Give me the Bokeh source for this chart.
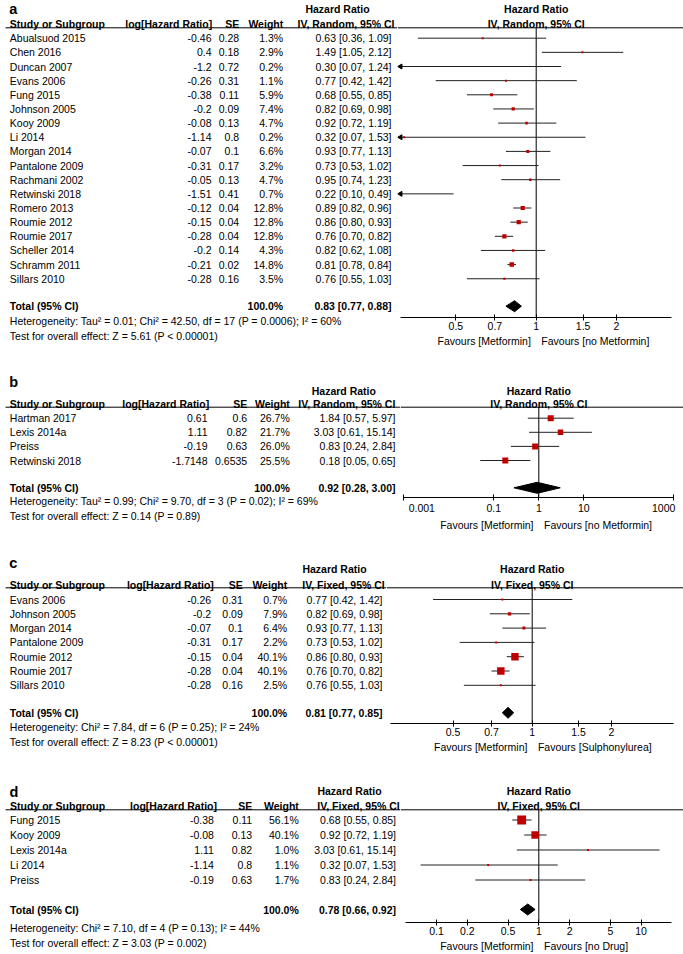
import math
from bokeh.plotting import figure
from bokeh.models import (Range1d, LogScale, LogAxis, FixedTicker,
                          CustomJSTickFormatter, ColumnDataSource)
from bokeh.layouts import column, row
from bokeh.core.properties import value
from bokeh.embed import file_html
from bokeh.resources import INLINE

# ---------------- data: panel a ----------------
a_studies = ["Abualsuod 2015", "Chen 2016", "Duncan 2007", "Evans 2006", "Fung 2015",
             "Johnson 2005", "Kooy 2009", "Li 2014", "Morgan 2014", "Pantalone 2009",
             "Rachmani 2002", "Retwinski 2018", "Romero 2013", "Roumie 2012",
             "Roumie 2017", "Scheller 2014", "Schramm 2011", "Sillars 2010"]
a_loghr = [-0.46, 0.4, -1.2, -0.26, -0.38, -0.2, -0.08, -1.14, -0.07, -0.31,
           -0.05, -1.51, -0.12, -0.15, -0.28, -0.2, -0.21, -0.28]
a_se = [0.28, 0.18, 0.72, 0.31, 0.11, 0.09, 0.13, 0.8, 0.1, 0.17,
        0.13, 0.41, 0.04, 0.04, 0.04, 0.14, 0.02, 0.16]
a_weight = [1.3, 2.9, 0.2, 1.1, 5.9, 7.4, 4.7, 0.2, 6.6, 3.2,
            4.7, 0.7, 12.8, 12.8, 12.8, 4.3, 14.8, 3.5]
a_hr = [0.63, 1.49, 0.30, 0.77, 0.68, 0.82, 0.92, 0.32, 0.93, 0.73,
        0.95, 0.22, 0.89, 0.86, 0.76, 0.82, 0.81, 0.76]
a_lo = [0.36, 1.05, 0.07, 0.42, 0.55, 0.69, 0.72, 0.07, 0.77, 0.53,
        0.74, 0.10, 0.82, 0.80, 0.70, 0.62, 0.78, 0.55]
a_hi = [1.09, 2.12, 1.24, 1.42, 0.85, 0.98, 1.19, 1.53, 1.13, 1.02,
        1.23, 0.49, 0.96, 0.93, 0.82, 1.08, 0.84, 1.03]
a_total = [0.83, 0.77, 0.88]
a_total_weight = 100.0
a_method = "IV, Random, 95% CI"
a_het = "Heterogeneity: Tau\u00b2 = 0.01; Chi\u00b2 = 42.50, df = 17 (P = 0.0006); I\u00b2 = 60%"
a_test = "Test for overall effect: Z = 5.61 (P < 0.00001)"
a_ticks = [0.5, 0.7, 1, 1.5, 2]
a_favours = ["Favours [Metformin]", "Favours [no Metformin]"]

# ---------------- data: panel b ----------------
b_studies = ["Hartman 2017", "Lexis 2014a", "Preiss", "Retwinski 2018"]
b_loghr = [0.61, 1.11, -0.19, -1.7148]
b_se = [0.6, 0.82, 0.63, 0.6535]
b_weight = [26.7, 21.7, 26.0, 25.5]
b_hr = [1.84, 3.03, 0.83, 0.18]
b_lo = [0.57, 0.61, 0.24, 0.05]
b_hi = [5.97, 15.14, 2.84, 0.65]
b_total = [0.92, 0.28, 3.00]
b_total_weight = 100.0
b_method = "IV, Random, 95% CI"
b_het = "Heterogeneity: Tau\u00b2 = 0.99; Chi\u00b2 = 9.70, df = 3 (P = 0.02); I\u00b2 = 69%"
b_test = "Test for overall effect: Z = 0.14 (P = 0.89)"
b_ticks = [0.001, 0.1, 1, 10, 1000]
b_favours = ["Favours [Metformin]", "Favours [no Metformin]"]

# ---------------- data: panel c ----------------
c_studies = ["Evans 2006", "Johnson 2005", "Morgan 2014", "Pantalone 2009",
             "Roumie 2012", "Roumie 2017", "Sillars 2010"]
c_loghr = [-0.26, -0.2, -0.07, -0.31, -0.15, -0.28, -0.28]
c_se = [0.31, 0.09, 0.1, 0.17, 0.04, 0.04, 0.16]
c_weight = [0.7, 7.9, 6.4, 2.2, 40.1, 40.1, 2.5]
c_hr = [0.77, 0.82, 0.93, 0.73, 0.86, 0.76, 0.76]
c_lo = [0.42, 0.69, 0.77, 0.53, 0.80, 0.70, 0.55]
c_hi = [1.42, 0.98, 1.13, 1.02, 0.93, 0.82, 1.03]
c_total = [0.81, 0.77, 0.85]
c_total_weight = 100.0
c_method = "IV, Fixed, 95% CI"
c_het = "Heterogeneity: Chi\u00b2 = 7.84, df = 6 (P = 0.25); I\u00b2 = 24%"
c_test = "Test for overall effect: Z = 8.23 (P < 0.00001)"
c_ticks = [0.5, 0.7, 1, 1.5, 2]
c_favours = ["Favours [Metformin]", "Favours [Sulphonylurea]"]

# ---------------- data: panel d ----------------
d_studies = ["Fung 2015", "Kooy 2009", "Lexis 2014a", "Li 2014", "Preiss"]
d_loghr = [-0.38, -0.08, 1.11, -1.14, -0.19]
d_se = [0.11, 0.13, 0.82, 0.8, 0.63]
d_weight = [56.1, 40.1, 1.0, 1.1, 1.7]
d_hr = [0.68, 0.92, 3.03, 0.32, 0.83]
d_lo = [0.55, 0.72, 0.61, 0.07, 0.24]
d_hi = [0.85, 1.19, 15.14, 1.53, 2.84]
d_total = [0.78, 0.66, 0.92]
d_total_weight = 100.0
d_method = "IV, Fixed, 95% CI"
d_het = "Heterogeneity: Chi\u00b2 = 7.10, df = 4 (P = 0.13); I\u00b2 = 44%"
d_test = "Test for overall effect: Z = 3.03 (P = 0.002)"
d_ticks = [0.1, 0.2, 0.5, 1, 2, 5, 10]
d_favours = ["Favours [Metformin]", "Favours [no Drug]"]

# ---------------- layout (reference-pixel geometry) ----------------
REF_W = 683.0
PAGE_W = 683
S = PAGE_W / REF_W
FONT = "Liberation Sans"
FS = "%.2fpx" % (10.5 * S)
FS_LETTER = "%.2fpx" % (14.5 * S)
RED = "#c00000"
LN2, LN10 = math.log(2), math.log(10)
EN = "\u2002"
NB = "\u00a0"
GAP = EN + EN

geoms = [
    dict(letter="a", axis=316.7, bottom=352, let_y=8, hr_head=8, col_head=23.3, line=27.3,
         row0=37.7, pitch=14.15, total=305.7, het=320.7, test=335, split=397,
         x_study=9.3, x_loghead=211.7, x_log=211, x_se=238.7, x_w=282.7, x_ci=391,
         x_hrhead=337, x_ivhead=345.5, x_one=535.7, ppl=80.3 / LN2, bounds=(0.31, 3.226),
         pads={}, fav_pad=(NB + NB, "")),
    dict(letter="b", axis=497.3, bottom=533, let_y=381, hr_head=390, col_head=403.3,
         line=406.7, row0=417.7, pitch=14.1, total=487.3, het=500.7, test=515, split=400,
         x_study=9.3, x_loghead=208.7, x_log=207, x_se=246.7, x_w=289.3, x_ci=395,
         x_hrhead=343.3, x_ivhead=346.3, x_one=538.3, ppl=45.0 / LN10, bounds=(0.001, 1000),
         pads={"0.001": [EN + NB, ""], "1000": ["", EN + NB]}, fav_pad=(EN + NB, "")),
    dict(letter="c", axis=723.3, bottom=758, let_y=562, hr_head=568.3, col_head=584,
         line=587.3, row0=599, pitch=14.3, total=712.3, het=726.7, test=741, split=386,
         x_study=9.3, x_loghead=213.3, x_log=210.7, x_se=242.3, x_w=286.7, x_ci=382,
         x_hrhead=334, x_ivhead=343, x_one=531.7, ppl=79.2 / LN2, bounds=(0.29, 3.45),
         pads={}, fav_pad=(EN * 3, "")),
    dict(letter="d", axis=921.7, bottom=954, let_y=791, hr_head=790.7, col_head=805.7,
         line=809.3, row0=819.5, pitch=15.0, total=909, het=927.3, test=942, split=400,
         x_study=9.6, x_loghead=216.5, x_log=213.4, x_se=251.7, x_w=298.3, x_ci=395.5,
         x_hrhead=349, x_ivhead=358, x_one=538.3, ppl=102.3 / LN10, bounds=(0.05, 20),
         pads={}, fav_pad=("", EN * 3)),
]

panels = [
    dict(studies=a_studies, loghr=a_loghr, se=a_se, weight=a_weight, hr=a_hr, lo=a_lo, hi=a_hi,
         total=a_total, tw=a_total_weight, method=a_method, het=a_het, test=a_test,
         ticks=a_ticks, favours=a_favours),
    dict(studies=b_studies, loghr=b_loghr, se=b_se, weight=b_weight, hr=b_hr, lo=b_lo, hi=b_hi,
         total=b_total, tw=b_total_weight, method=b_method, het=b_het, test=b_test,
         ticks=b_ticks, favours=b_favours),
    dict(studies=c_studies, loghr=c_loghr, se=c_se, weight=c_weight, hr=c_hr, lo=c_lo, hi=c_hi,
         total=c_total, tw=c_total_weight, method=c_method, het=c_het, test=c_test,
         ticks=c_ticks, favours=c_favours),
    dict(studies=d_studies, loghr=d_loghr, se=d_se, weight=d_weight, hr=d_hr, lo=d_lo, hi=d_hi,
         total=d_total, tw=d_total_weight, method=d_method, het=d_het, test=d_test,
         ticks=d_ticks, favours=d_favours),
]


def txt(p, xs, ys, texts, align="left", bold=False, size=FS, baseline="middle"):
    src = ColumnDataSource(dict(x=list(xs), y=list(ys), t=list(texts)))
    p.text(x="x", y="y", text="t", source=src, text_align=align, text_baseline=baseline,
           text_font=value(FONT), text_font_size=value(size),
           text_font_style="bold" if bold else "normal", text_color="black")


def ci_text(h, l, u):
    return "%.2f [%.2f, %.2f]" % (h, l, u)


def base_fig(w, fh, xr, yr, bb, log_x=False):
    p = figure(frame_width=w, frame_height=fh, x_range=xr, y_range=yr,
               x_axis_type=None, y_axis_type=None, toolbar_location=None,
               output_backend="svg", title=None, min_border_left=0, min_border_right=0,
               min_border_top=0, min_border_bottom=bb)
    if log_x:
        p.x_scale = LogScale()
    p.outline_line_color = None
    p.background_fill_color = "white"
    p.border_fill_color = "white"
    return p


def js_str(s):
    return "'" + "".join("\\u%04x" % ord(ch) for ch in s) + "'"


rows = []
cum = 0
for d, g in zip(panels, geoms):
    top_ref = cum / S
    fh = int(round(g["axis"] * S - cum))
    axis_ref = (cum + fh) / S
    bb = int(round(g["bottom"] * S)) - (cum + fh)
    total_h = fh + bb
    bottom_ref = (cum + total_h) / S
    cum += total_h

    wl = int(round(g["split"] * S))
    split_ref = wl / S
    wr = PAGE_W - wl

    # ---------- table (left) ----------
    t = base_fig(wl, total_h, Range1d(0, split_ref), Range1d(bottom_ref, top_ref), 0)
    n = len(d["studies"])
    ys = [g["row0"] + i * g["pitch"] for i in range(n)]

    txt(t, [g["x_study"] - 0.5], [g["let_y"]], [g["letter"]], "left", True, size=FS_LETTER)
    txt(t, [g["x_hrhead"]], [g["hr_head"]], ["Hazard Ratio"], "center", True)
    txt(t, [g["x_study"]], [g["col_head"]], ["Study or Subgroup"], "left", True)
    txt(t, [g["x_loghead"]], [g["col_head"]], ["log[Hazard Ratio]"], "right", True)
    txt(t, [g["x_se"]], [g["col_head"]], ["SE"], "right", True)
    txt(t, [g["x_w"]], [g["col_head"]], ["Weight"], "right", True)
    txt(t, [g["x_ivhead"]], [g["col_head"]], [d["method"]], "center", True)
    t.segment(x0=[5], x1=[split_ref], y0=[g["line"]], y1=[g["line"]], line_color="black",
              line_width=1)

    txt(t, [g["x_study"]] * n, ys, d["studies"], "left")
    txt(t, [g["x_log"]] * n, ys, ["%g" % v for v in d["loghr"]], "right")
    txt(t, [g["x_se"]] * n, ys, ["%g" % v for v in d["se"]], "right")
    txt(t, [g["x_w"]] * n, ys, ["%.1f%%" % v for v in d["weight"]], "right")
    txt(t, [g["x_ci"]] * n, ys,
        [ci_text(h, l, u) for h, l, u in zip(d["hr"], d["lo"], d["hi"])], "right")

    t_est, t_lo, t_hi = d["total"]
    txt(t, [g["x_study"]], [g["total"]], ["Total (95% CI)"], "left", True)
    txt(t, [g["x_w"]], [g["total"]], ["%.1f%%" % d["tw"]], "right", True)
    txt(t, [g["x_ci"]], [g["total"]], [ci_text(t_est, t_lo, t_hi)], "right", True)
    txt(t, [g["x_study"]], [g["het"]], [d["het"]], "left")
    txt(t, [g["x_study"]], [g["test"]], [d["test"]], "left")

    # ---------- forest (right) ----------
    fx0 = math.exp((split_ref - g["x_one"]) / g["ppl"])
    fx1 = math.exp((REF_W - g["x_one"]) / g["ppl"])
    f = base_fig(wr, fh, Range1d(fx0, fx1), Range1d(axis_ref, top_ref), bb, log_x=True)
    b0, b1 = g["bounds"]

    txt(f, [1.0], [g["hr_head"]], ["Hazard Ratio"], "center", True)
    txt(f, [1.0], [g["col_head"]], [d["method"]], "center", True)
    f.segment(x0=[fx0], x1=[fx1], y0=[g["line"]], y1=[g["line"]], line_color="black",
              line_width=1)
    f.segment(x0=[1.0], x1=[1.0], y0=[g["line"]], y1=[axis_ref], line_color="black",
              line_width=1)

    cx0 = [max(l, b0) for l in d["lo"]]
    cx1 = [min(u, b1) for u in d["hi"]]
    f.segment(x0=cx0, x1=cx1, y0=ys, y1=ys, line_color="#222222", line_width=1)
    arr_y = [y for y, l in zip(ys, d["lo"]) if l < b0]
    if arr_y:
        f.scatter(x=[b0] * len(arr_y), y=arr_y, marker="triangle", angle=math.pi / 2,
                  size=5 * S, fill_color="black", line_color="black")

    sq = [(h, y, max(2.0, 1.18 * math.sqrt(w)) * S)
          for h, y, w in zip(d["hr"], ys, d["weight"]) if b0 <= h <= b1]
    f.scatter(x=[s[0] for s in sq], y=[s[1] for s in sq], size=[s[2] for s in sq],
              marker="square", fill_color=RED, line_color=None)

    hh = 5.5
    ty = g["total"]
    f.patch(x=[t_lo, t_est, t_hi, t_est], y=[ty, ty - hh, ty, ty + hh],
            fill_color="black", line_color="black")

    pad_js = "{" + ",".join("'%s': [%s, %s]" % (k, js_str(v[0]), js_str(v[1]))
                           for k, v in g["pads"].items()) + "}"
    code = ("const pads = %s; const s = String(tick); const q = pads[s];"
            " if (q) { return q[0] + s + q[1]; } return s;") % pad_js
    fl, fr = g["fav_pad"]
    fav = fl + d["favours"][0] + GAP + d["favours"][1] + fr
    ax = LogAxis(ticker=FixedTicker(ticks=d["ticks"]),
                 formatter=CustomJSTickFormatter(code=code), bounds=(b0, b1),
                 major_tick_in=3, major_tick_out=3, minor_tick_line_color=None,
                 axis_line_color="black", major_tick_line_color="black",
                 major_label_standoff=1, major_label_text_font=FONT,
                 major_label_text_font_size=FS, major_label_text_color="black",
                 axis_label=fav, axis_label_standoff=2, axis_label_text_font=FONT,
                 axis_label_text_font_size=FS, axis_label_text_font_style="normal",
                 axis_label_text_color="black")
    f.add_layout(ax, "below")

    rows.append(row(t, f, spacing=0))

layout = column(*rows, spacing=0)
open("out.html", "w").write(file_html(layout, INLINE))
